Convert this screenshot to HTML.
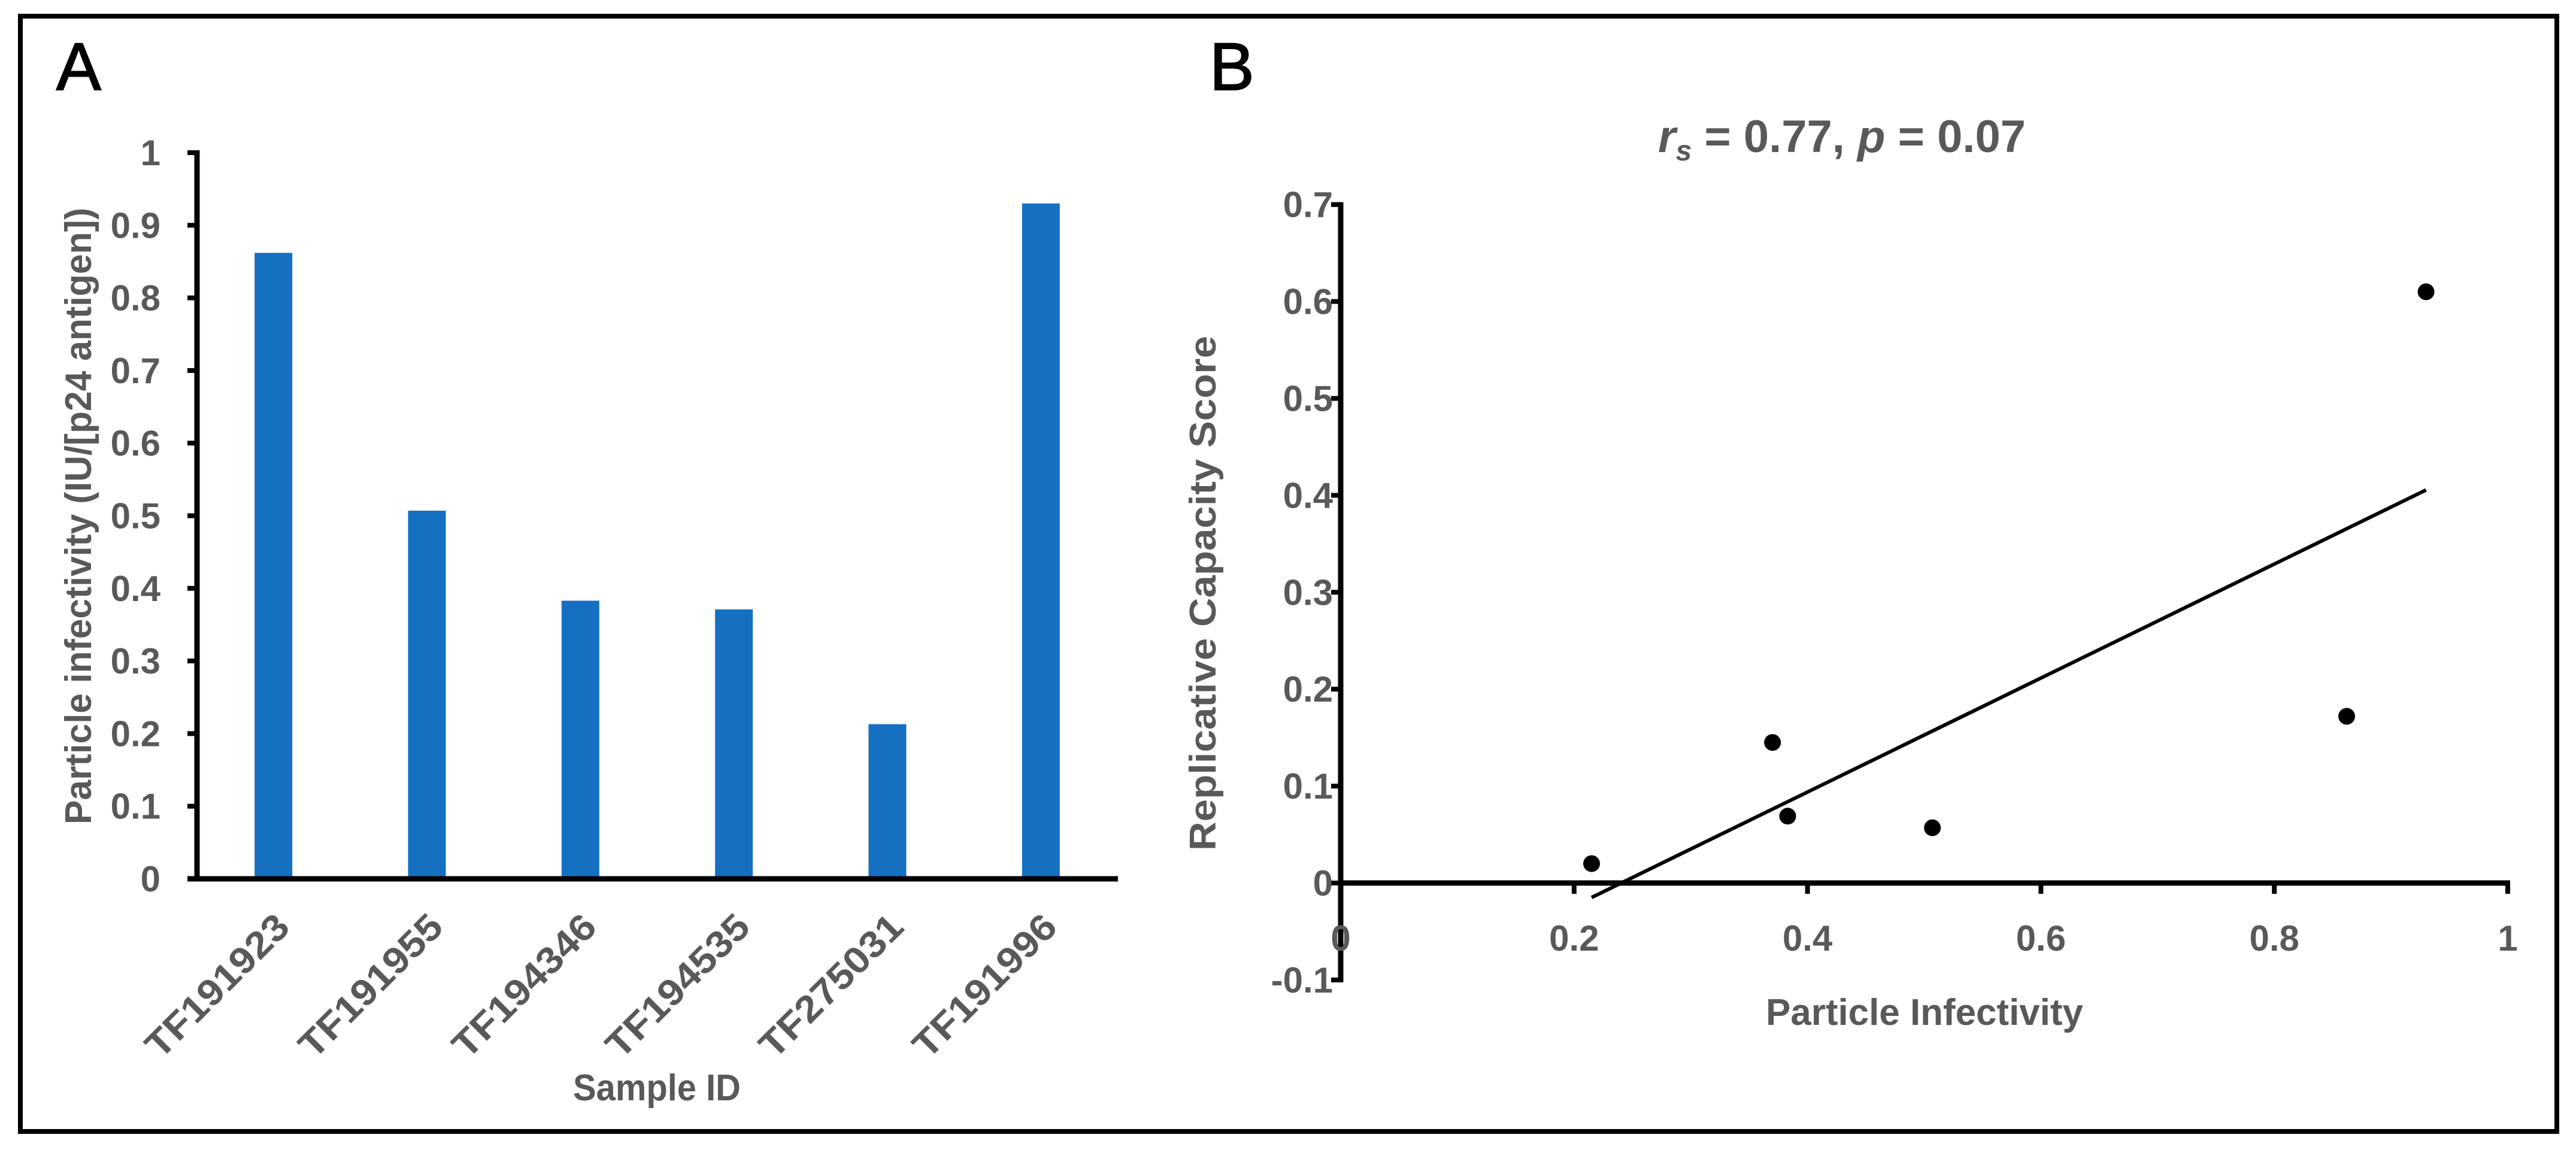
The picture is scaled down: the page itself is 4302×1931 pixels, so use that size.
<!DOCTYPE html>
<html><head><meta charset="utf-8"><style>
html,body{margin:0;padding:0;background:#fff}
svg{display:block}
text{font-family:"Liberation Sans",sans-serif;font-weight:bold;fill:#595959}
</style></head><body>
<svg id="fig" width="4302" height="1931" viewBox="0 0 4302 1931" xmlns="http://www.w3.org/2000/svg">
<rect x="34" y="27" width="4236" height="1863" fill="none" stroke="#000" stroke-width="8"/>
<text x="94" y="150" font-size="112" style="fill:#000;font-weight:normal;stroke:#000;stroke-width:2">A</text>
<text x="2020" y="150" font-size="112" style="fill:#000;font-weight:normal;stroke:#000;stroke-width:2">B</text>
<g id="pa"></g>
<g id="pb"></g>
</svg>
<script>
const NS='http://www.w3.org/2000/svg';
const categories=['TF191923','TF191955','TF194346','TF194535','TF275031','TF191996'];
const infectivity=[0.862,0.507,0.383,0.371,0.213,0.930];
const yTicksA=[0,0.1,0.2,0.3,0.4,0.5,0.6,0.7,0.8,0.9,1];
const yTickLabelsA=['0','0.1','0.2','0.3','0.4','0.5','0.6','0.7','0.8','0.9','1'];
const scatterX=[0.215,0.370,0.383,0.507,0.862,0.930];
const scatterY=[0.020,0.145,0.069,0.057,0.172,0.610];
const xTicksB=[0,0.2,0.4,0.6,0.8,1];
const xTickLabelsB=['0','0.2','0.4','0.6','0.8','1'];
const yTicksB=[-0.1,0,0.1,0.2,0.3,0.4,0.5,0.6,0.7];
const yTickLabelsB=['-0.1','0','0.1','0.2','0.3','0.4','0.5','0.6','0.7'];

function mk(tag,attrs,parent,txt){const e=document.createElementNS(NS,tag);for(const k in attrs)e.setAttribute(k,attrs[k]);if(txt!==undefined)e.textContent=txt;parent.appendChild(e);return e;}

// Panel A
const pa=document.getElementById('pa');
const ax0=329,ax1=1867,ay0=1468,ay1=255;
const yA=v=>ay0+(ay1-ay0)*v;
const bw=(ax1-ax0)/categories.length;
const xA=i=>ax0+bw*(i+0.5);
infectivity.forEach((v,i)=>{
  const r=mk('rect',{x:xA(i)-32,y:yA(v),width:63,height:yA(0)-yA(v),fill:'#1570C2'},pa);
  
  
  const t=mk('text',{'text-anchor':'end','font-size':'62',textLength:'310',lengthAdjust:'spacingAndGlyphs',transform:`translate(${xA(i)+30},${1552}) rotate(-45)`},pa,categories[i]);
  
  
});
yTicksA.forEach((v,i)=>{
  const l=mk('line',{x1:ax0-16,x2:ax0,y1:yA(v),y2:yA(v),stroke:'#000','stroke-width':8},pa);
  
  
  const t=mk('text',{x:268,y:yA(v)+21,'text-anchor':'end','font-size':'60'},pa,yTickLabelsA[i]);
  
  
});
let e=mk('line',{x1:ax0,x2:ax0,y1:ay1-4,y2:ay0+4,stroke:'#000','stroke-width':9},pa);


e=mk('line',{x1:ax0-16,x2:ax1,y1:ay0,y2:ay0,stroke:'#000','stroke-width':9},pa);


e=mk('text',{x:1097,y:1838,'text-anchor':'middle','font-size':'62',textLength:'280',lengthAdjust:'spacingAndGlyphs'},pa,'Sample ID');


e=mk('text',{'text-anchor':'middle','font-size':'62',textLength:'1030',lengthAdjust:'spacingAndGlyphs',transform:'translate(152,862) rotate(-90)'},pa,'Particle infectivity (IU/[p24 antigen])');



// Panel B
const pb=document.getElementById('pb');
const bx0=2239,bx1=4188,by0=1475;
const pxPer=161.9;
const xB=v=>bx0+(bx1-bx0)*v;
const yB=v=>by0-v*pxPer*10;
e=mk('line',{x1:bx0,x2:bx0,y1:yB(0.7)-4,y2:yB(-0.1)+4,stroke:'#000','stroke-width':9},pb);


e=mk('line',{x1:bx0,x2:bx1+4,y1:by0,y2:by0,stroke:'#000','stroke-width':9},pb);


yTicksB.forEach((v,i)=>{
  const l=mk('line',{x1:bx0-16,x2:bx0,y1:yB(v),y2:yB(v),stroke:'#000','stroke-width':8},pb);
  
  
  const t=mk('text',{x:2226,y:yB(v)+21,'text-anchor':'end','font-size':'60'},pb,yTickLabelsB[i]);
  
  
});
xTicksB.forEach((v,i)=>{
  const l=mk('line',{x1:xB(v),x2:xB(v),y1:by0,y2:by0+18,stroke:'#000','stroke-width':8},pb);
  
  
  const t=mk('text',{x:xB(v),y:1588,'text-anchor':'middle','font-size':'60'},pb,xTickLabelsB[i]);
  
  
});
// regression
const n=scatterX.length;
const mx=scatterX.reduce((a,b)=>a+b,0)/n, my=scatterY.reduce((a,b)=>a+b,0)/n;
let sxy=0,sxx=0;for(let i=0;i<n;i++){sxy+=(scatterX[i]-mx)*(scatterY[i]-my);sxx+=(scatterX[i]-mx)**2;}
const slope=sxy/sxx, icpt=my-slope*mx;
const lxMin=Math.min(...scatterX), lxMax=Math.max(...scatterX);
e=mk('line',{x1:xB(lxMin),y1:yB(icpt+slope*lxMin),x2:xB(lxMax),y2:yB(icpt+slope*lxMax),stroke:'#000','stroke-width':6},pb);


scatterX.forEach((x,i)=>{
  const c=mk('circle',{cx:xB(x),cy:yB(scatterY[i]),r:14,fill:'#000'},pb);
  
  
});
e=mk('text',{x:3076,y:254,'text-anchor':'middle','font-size':'76'},pb);
e.innerHTML='<tspan font-style="italic">r</tspan><tspan font-style="italic" font-size="48" dy="14">s</tspan><tspan dy="-14"> = 0.77, </tspan><tspan font-style="italic">p</tspan><tspan> = 0.07</tspan>';


e=mk('text',{x:3214,y:1712,'text-anchor':'middle','font-size':'62',textLength:'530',lengthAdjust:'spacingAndGlyphs'},pb,'Particle Infectivity');


e=mk('text',{'text-anchor':'middle','font-size':'62',textLength:'860',lengthAdjust:'spacingAndGlyphs',transform:'translate(2030,991) rotate(-90)'},pb,'Replicative Capacity Score');


</script>
</body></html>
